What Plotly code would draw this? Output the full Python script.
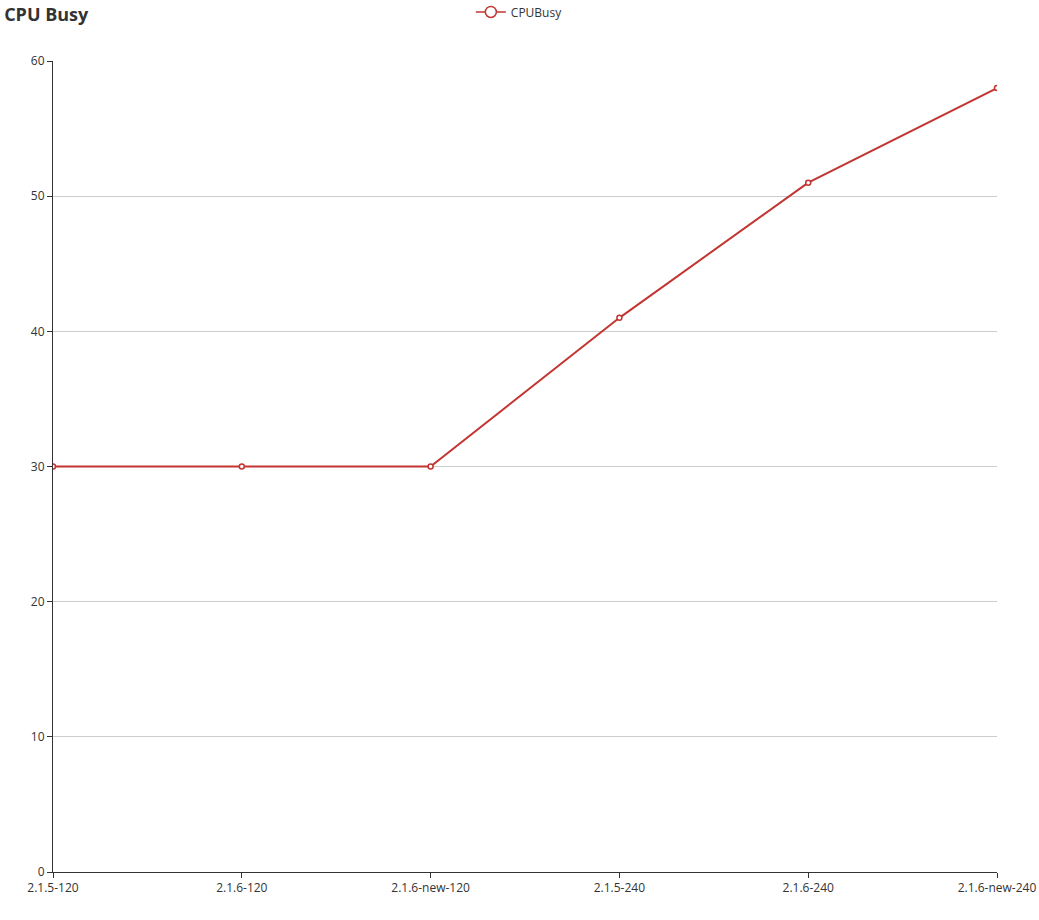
import plotly.graph_objects as go

versiones = ["2.1.5-120", "2.1.6-120", "2.1.6-new-120", "2.1.5-240", "2.1.6-240", "2.1.6-new-240"]
cpu_busy = [30, 30, 30, 41, 51, 58]
y_ticks = [0, 10, 20, 30, 40, 50, 60]

rojo = "#c23531"
fuente = "Open Sans, DejaVu Sans, sans-serif"

fig = go.Figure()

fig.add_trace(
    go.Scatter(x=versiones, y=cpu_busy, mode="lines+markers", name="CPUBusy",
               line=dict(color=rojo, width=2),
               marker=dict(symbol="circle", size=5, color="white",
                           line=dict(color=rojo, width=1.5)),
               showlegend=False)
)
# solo para la leyenda (marcador más grande)
fig.add_trace(
    go.Scatter(x=[None], y=[None], mode="lines+markers", name="CPUBusy",
               line=dict(color=rojo, width=1.5),
               marker=dict(symbol="circle", size=11, color="white",
                           line=dict(color=rojo, width=1.5)))
)

fig.update_layout(
    width=1039, height=920,
    margin=dict(l=53, r=42, t=61, b=48),
    plot_bgcolor="white", paper_bgcolor="white",
    font=dict(family=fuente, size=12, color="#333"),
    title=dict(text="<b>CPU Busy</b>", x=0.004, xanchor="left", y=0.984, yanchor="middle",
               font=dict(size=18, color="#333")),
    legend=dict(orientation="h", x=0.494, xanchor="center", y=0.987, yanchor="middle",
                yref="container", font=dict(size=12, color="#333"),
                bgcolor="rgba(0,0,0,0)", itemwidth=30),
)

fig.update_xaxes(
    type="category", categoryorder="array", categoryarray=versiones,
    range=[0, len(versiones) - 1], automargin=False,
    showgrid=False, showline=True, linecolor="#333", linewidth=1,
    ticks="outside", ticklen=5, tickcolor="#333", zeroline=False,
    tickfont=dict(size=12, color="#333"),
)
fig.update_yaxes(
    range=[0, 60], tickvals=y_ticks, automargin=False,
    showgrid=True, gridcolor="#ccc", gridwidth=1,
    showline=True, linecolor="#333", linewidth=1,
    ticks="outside", ticklen=5, tickcolor="#333", zeroline=False,
    tickfont=dict(size=12, color="#333"),
)

# quitar el margen del body para que la figura empiece en (0,0)
fig.write_html("out.html", config={"displayModeBar": False},
               post_script="document.body.style.margin='0';")
